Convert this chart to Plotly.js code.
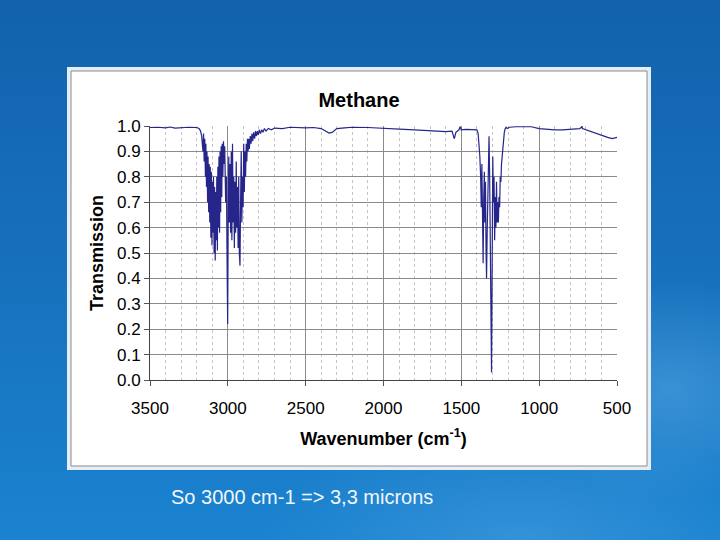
<!DOCTYPE html>
<html>
<head>
<meta charset="utf-8">
<script src="https://cdn.plot.ly/plotly-3.0.1.min.js"></script>
<style>
  html, body { margin: 0; padding: 0; }
  body {
    width: 720px; height: 540px; overflow: hidden;
    background:
      radial-gradient(ellipse 160px 110px at 670px 390px, rgba(120,190,240,0.35), rgba(120,190,240,0) 100%),
      radial-gradient(ellipse 260px 120px at 520px 540px, rgba(110,180,235,0.30), rgba(110,180,235,0) 100%),
      linear-gradient(180deg, #1262ad 0%, #176fba 45%, #1a83d0 100%);
  }
  #chart { width: 720px; height: 540px; }
</style>
</head>
<body>
<div id="chart"></div>
<script>
// IR spectrum of methane
var wavenumber = [
  3500, 3450, 3400, 3370, 3340, 3300, 3250, 3200, 3185, 3175,
  3168, 3160, 3156, 3152, 3148, 3144, 3141, 3137, 3134, 3130,
  3127, 3123, 3120, 3116, 3113, 3109, 3106, 3102, 3099, 3095,
  3092, 3088, 3085, 3081, 3078, 3074, 3071, 3067, 3064, 3060,
  3057, 3053, 3050, 3046, 3043, 3039, 3036, 3032, 3028, 3024,
  3020, 3014, 3009, 3004, 3001, 2998, 2994, 2990, 2986, 2982,
  2978, 2974, 2970, 2966, 2962, 2958, 2954, 2950, 2946, 2942,
  2938, 2934, 2930, 2926, 2922, 2918, 2914, 2910, 2906, 2902,
  2898, 2894, 2890, 2886, 2882, 2878, 2874, 2870, 2866, 2862,
  2856, 2851, 2845, 2840, 2834, 2828, 2822, 2816, 2810, 2804,
  2798, 2790, 2782, 2774, 2765, 2755, 2740, 2720, 2700, 2650,
  2600, 2500, 2450, 2400, 2370, 2350, 2330, 2300, 2250, 2200,
  2100, 2000, 1900, 1800, 1700, 1600, 1560, 1545, 1535, 1515,
  1508, 1500, 1470, 1440, 1420, 1400, 1392, 1386, 1381, 1376,
  1372, 1368, 1364, 1360, 1356, 1352, 1349, 1345, 1341, 1338,
  1334, 1330, 1326, 1322, 1318, 1314, 1310, 1306, 1302, 1298,
  1294, 1290, 1286, 1282, 1278, 1274, 1270, 1266, 1262, 1258,
  1254, 1250, 1246, 1242, 1236, 1230, 1224, 1218, 1212, 1205,
  1190, 1150, 1100, 1050, 1000, 950, 900, 850, 800, 760,
  740, 728, 725, 722, 700, 650, 600, 560, 530, 500
];
var transmission = [
  .994, .995, .993, .996, .992, .994, .995, .994, .99, .98,
  .96, .90, .97, .86, .95, .80, .93, .76, .90, .70,
  .88, .66, .85, .62, .84, .56, .82, .53, .78, .58,
  .80, .50, .76, .47, .74, .55, .80, .51, .84, .60,
  .88, .58, .90, .66, .92, .72, .93, .80, .94, .85,
  .92, .70, .80, .40, .22, .60, .88, .62, .85, .58,
  .90, .55, .93, .62, .80, .52, .78, .58, .86, .60,
  .76, .52, .80, .50, .45, .70, .90, .62, .80, .68,
  .93, .74, .90, .80, .93, .86, .95, .90, .95, .91,
  .96, .93, .97, .94, .975, .95, .98, .96, .98, .965,
  .985, .97, .985, .975, .99, .98, .99, .985, .992, .99,
  .995, .993, .994, .99, .98, .972, .975, .99, .993, .995,
  .994, .99, .988, .985, .982, .978, .98, .95, .975, .985,
  .997, .985, .987, .985, .985, .985, .97, .93, .88, .80,
  .68, .85, .55, .46, .72, .82, .62, .78, .50, .40,
  .58, .75, .90, .96, .80, .50, .15, .03, .45, .88,
  .70, .80, .55, .72, .60, .78, .62, .70, .62, .72,
  .68, .80, .78, .85, .90, .95, .975, .99, .995, .99,
  .995, .997, .998, .997, .99, .987, .985, .985, .987, .988,
  .99, .995, 1.0, .99, .985, .975, .963, .955, .95, .955
];
var xTicks = [3500, 3000, 2500, 2000, 1500, 1000, 500];
var yTicks = [0, 0.1, 0.2, 0.3, 0.4, 0.5, 0.6, 0.7, 0.8, 0.9, 1.0];
var yTickText = ["0.0", "0.1", "0.2", "0.3", "0.4", "0.5", "0.6", "0.7", "0.8", "0.9", "1.0"];

var trace = {
  x: wavenumber,
  y: transmission,
  type: "scatter",
  mode: "lines",
  line: {color: "#25258a", width: 1.2},
  hoverinfo: "skip"
};

// plot area is 150..617 px wide, 126..380 px high
var pw = 467, ph = 254;
function px(x) { return (x - 150) / pw; }
function py(y) { return (380 - y) / ph; }

var layout = {
  width: 720,
  height: 540,
  margin: {l: 150, r: 103, t: 126, b: 160},
  paper_bgcolor: "rgba(0,0,0,0)",
  plot_bgcolor: "#ffffff",
  showlegend: false,
  font: {family: "Liberation Sans, Arial, sans-serif", color: "#000"},
  title: {
    text: "<b>Methane</b>",
    font: {size: 20, color: "#000"},
    xref: "container", x: 359 / 720, xanchor: "center",
    yref: "container", y: 1 - 100 / 540, yanchor: "middle"
  },
  xaxis: {
    range: [3500, 500],
    tickvals: xTicks,
    ticks: "outside", ticklen: 5, tickcolor: "#555",
    ticklabelstandoff: 8,
    tickfont: {size: 17},
    showgrid: true, gridcolor: "#8a8a8a", gridwidth: 1,
    minor: {dtick: 100, showgrid: true, gridcolor: "#c4c4c4", griddash: "3px,3px", ticks: ""},
    showline: true, linecolor: "#444", linewidth: 1,
    zeroline: false,
    title: {text: "<b>Wavenumber (cm<sup>-1</sup>)</b>", font: {size: 18}, standoff: 14}
  },
  yaxis: {
    range: [0, 1.0],
    tickvals: yTicks,
    ticktext: yTickText,
    ticks: "outside", ticklen: 5, tickcolor: "#555",
    tickfont: {size: 17},
    showgrid: true, gridcolor: "#8a8a8a", gridwidth: 1,
    showline: true, linecolor: "#444", linewidth: 1,
    zeroline: false,
    title: {text: "<b>Transmission</b>", font: {size: 18}, standoff: 8}
  },
  shapes: [
    {type: "rect", xref: "paper", yref: "paper", layer: "below",
     x0: px(67), x1: px(651), y0: py(470), y1: py(67),
     fillcolor: "#e6edf5", line: {width: 0}},
    {type: "rect", xref: "paper", yref: "paper", layer: "below",
     x0: px(71), x1: px(647), y0: py(466), y1: py(71),
     fillcolor: "#ffffff", line: {color: "#8c8c8c", width: 1}}
  ],
  annotations: [
    {text: "So 3000 cm-1 => 3,3 microns", xref: "paper", yref: "paper",
     x: px(169), y: py(497), xanchor: "left", yanchor: "middle",
     showarrow: false, font: {size: 20, color: "#f2f6fa"}}
  ]
};

Plotly.newPlot("chart", [trace], layout, {staticPlot: true, displayModeBar: false});
</script>
</body>
</html>
